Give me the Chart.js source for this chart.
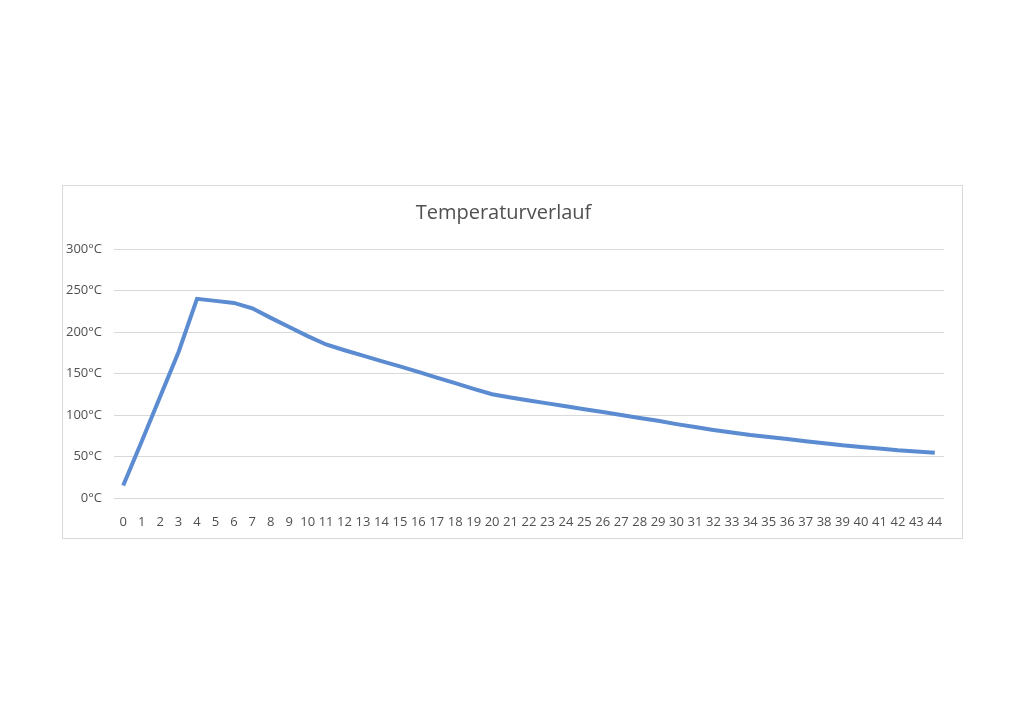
<!DOCTYPE html>
<html>
<head>
<meta charset="utf-8">
<script src="https://cdn.jsdelivr.net/npm/chart.js@4/dist/chart.umd.min.js"></script>
<style>
  html, body { margin: 0; padding: 0; background: #fff; }
  #box {
    position: absolute; left: 62px; top: 185px;
    width: 899px; height: 352px;
    border: 1px solid #d9d9d9;
  }
  #box canvas { display: block; }
</style>
</head>
<body>
<div id="box"><canvas id="chart"></canvas></div>
<script>
// ============ Data ============
const minutes = Array.from({ length: 45 }, (_, i) => String(i));
const temperatures = [
  15, 68, 122, 176, 240, 237.5, 235, 228.5, 217, 206,
  195, 185, 178, 171.5, 165, 158.5, 152, 145, 138.5, 131.5,
  125, 121, 117.5, 114, 110.5, 107, 103.5, 100, 96.5, 93,
  89, 85.5, 82, 79, 76, 73.5, 71, 68.5, 66, 63.5,
  61.5, 59.5, 57.5, 56, 54.5
];
const yTicks = [0, 50, 100, 150, 200, 250, 300];

const FONT = '"Open Sans", "Liberation Sans", sans-serif';
const TEXT = '#505050';
const GRID = '#d9d9d9';

new Chart(document.getElementById('chart'), {
  type: 'line',
  data: {
    labels: minutes,
    datasets: [{
      data: temperatures,
      borderColor: '#5b8bd0',
      borderWidth: 4,
      pointRadius: 0,
      tension: 0,
      fill: false
    }]
  },
  options: {
    responsive: true,
    maintainAspectRatio: false,
    animation: false,
    layout: { padding: { left: 0, right: 18, top: 0, bottom: 0 } },
    plugins: {
      legend: { display: false },
      tooltip: { enabled: false },
      title: {
        display: true,
        text: 'Temperaturverlauf',
        color: TEXT,
        font: { family: FONT, size: 20, weight: 'normal' },
        padding: { top: 15, bottom: 24 }
      }
    },
    scales: {
      x: {
        offset: true,
        grid: { display: false },
        border: { display: false },
        ticks: {
          color: TEXT,
          font: { family: FONT, size: 13 },
          maxRotation: 0,
          autoSkip: false,
          padding: 8
        },
        afterFit(scale) { scale.height = 40; }
      },
      y: {
        min: 0,
        max: 300,
        afterBuildTicks(scale) { scale.ticks = yTicks.map(v => ({ value: v })); },
        grid: { color: GRID, lineWidth: 1, drawTicks: false },
        border: { display: false },
        ticks: {
          color: TEXT,
          font: { family: FONT, size: 13 },
          padding: 12,
          callback: v => v + '°C'
        },
        afterFit(scale) { scale.width = 51; }
      }
    }
  }
});
</script>
</body>
</html>
